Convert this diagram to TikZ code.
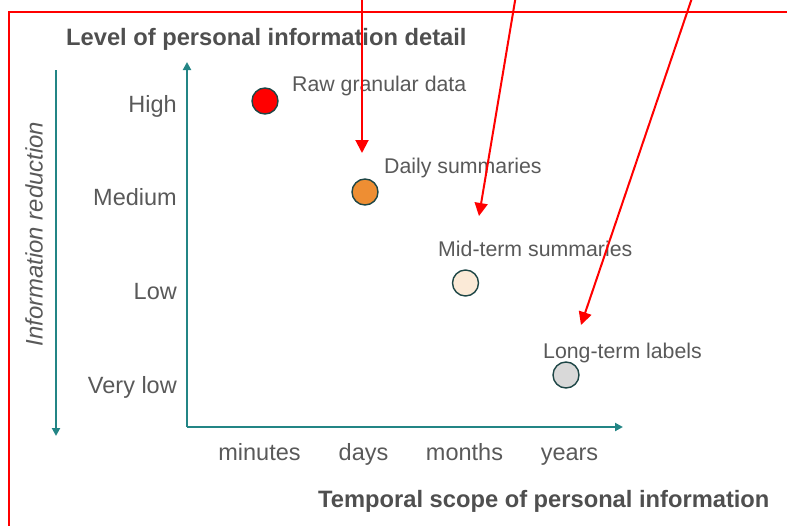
\documentclass[tikz,border=0pt]{standalone}
\usepackage{fontspec}
\setmainfont{Liberation Sans}
\usetikzlibrary{arrows.meta}
\definecolor{txtgray}{HTML}{595959}
\definecolor{ttlgray}{HTML}{4F4F4F}
\definecolor{axteal}{HTML}{238585}
\definecolor{dotline}{HTML}{1E4646}
\definecolor{dotred}{HTML}{FF0000}
\definecolor{dotorange}{HTML}{EE8E33}
\definecolor{dotcream}{HTML}{FBEAD7}
\definecolor{dotgray}{HTML}{D9D9D9}
\tikzset{
  axisline/.style={draw=axteal, line width=2pt, -{Triangle[length=8pt,width=8pt]}},
  redarrow/.style={draw=red, line width=2pt, -{Triangle[length=13pt,width=13pt]}},
  dot/.style={circle, draw=dotline, line width=1.4pt, minimum size=26pt, inner sep=0pt},
  lbl/.style={text=txtgray, inner sep=0pt, font=\fontsize{21.3}{25}\selectfont, anchor=base west},
  tick/.style={text=txtgray, inner sep=0pt, font=\fontsize{23.5}{27}\selectfont},
  ttl/.style={text=ttlgray, inner sep=0pt, font=\fontsize{23.7}{28}\selectfont\bfseries},
}
\begin{document}
\begin{tikzpicture}[x=1pt, y=-1pt]
\clip (0,0) rectangle (787,525);
% red frame
\draw[red, line width=2pt] (9,12) rectangle (800,545);
% titles
\node[ttl, anchor=base west] (ttly) at (66,45) {Level of personal information detail};
\node[ttl, anchor=base west] (ttlx) at (318,507) {Temporal scope of personal information};
\node[text=txtgray, inner sep=0pt, font=\fontsize{23.9}{28}\selectfont\itshape, rotate=90, anchor=base west] (ired) at (42.5,346.5) {Information reduction};
% axes
\coordinate (origin) at (187,427);
\coordinate (ytop) at (187,62);
\coordinate (xend) at (623,427);
\coordinate (rtop) at (56,70);
\coordinate (rbot) at (56,436);
\draw[axisline] (origin) -- (ytop);
\draw[axisline] (origin) -- (xend);
\draw[axisline] (rtop) -- (rbot);
% y ticks
\node[tick, anchor=base east] (high) at (177,112) {High};
\node[tick, anchor=base east] (medium) at (177,205) {Medium};
\node[tick, anchor=base east] (low) at (177,299) {Low};
\node[tick, anchor=base east] (vlow) at (177,393) {Very low};
% x ticks
\node[tick, anchor=base] (minutes) at (259.5,460) {minutes};
\node[tick, anchor=base] (days) at (363.5,460) {days};
\node[tick, anchor=base] (months) at (464.5,460) {months};
\node[tick, anchor=base] (years) at (569.5,460) {years};
% dots
\node[dot, fill=dotred] (d1) at (265,101) {};
\node[dot, fill=dotorange] (d2) at (365,192) {};
\node[dot, fill=dotcream] (d3) at (465.5,283) {};
\node[dot, fill=dotgray] (d4) at (566,375) {};
% labels
\node[lbl] (l1) at (292,91) {Raw granular data};
\node[lbl] (l2) at (384,173) {Daily summaries};
\node[lbl] (l3) at (438,256) {Mid-term summaries};
\node[lbl] (l4) at (543,358) {Long-term labels};
% red arrows
\coordinate (a1s) at (362,-5);
\coordinate (a1e) at (362,153);
\coordinate (a2s) at (516,-5);
\coordinate (a2e) at (479,216);
\coordinate (a3s) at (693,-5);
\coordinate (a3e) at (581,325);
\draw[redarrow] (a1s) -- (a1e);
\draw[redarrow] (a2s) -- (a2e);
\draw[redarrow] (a3s) -- (a3e);
\end{tikzpicture}
\end{document}
